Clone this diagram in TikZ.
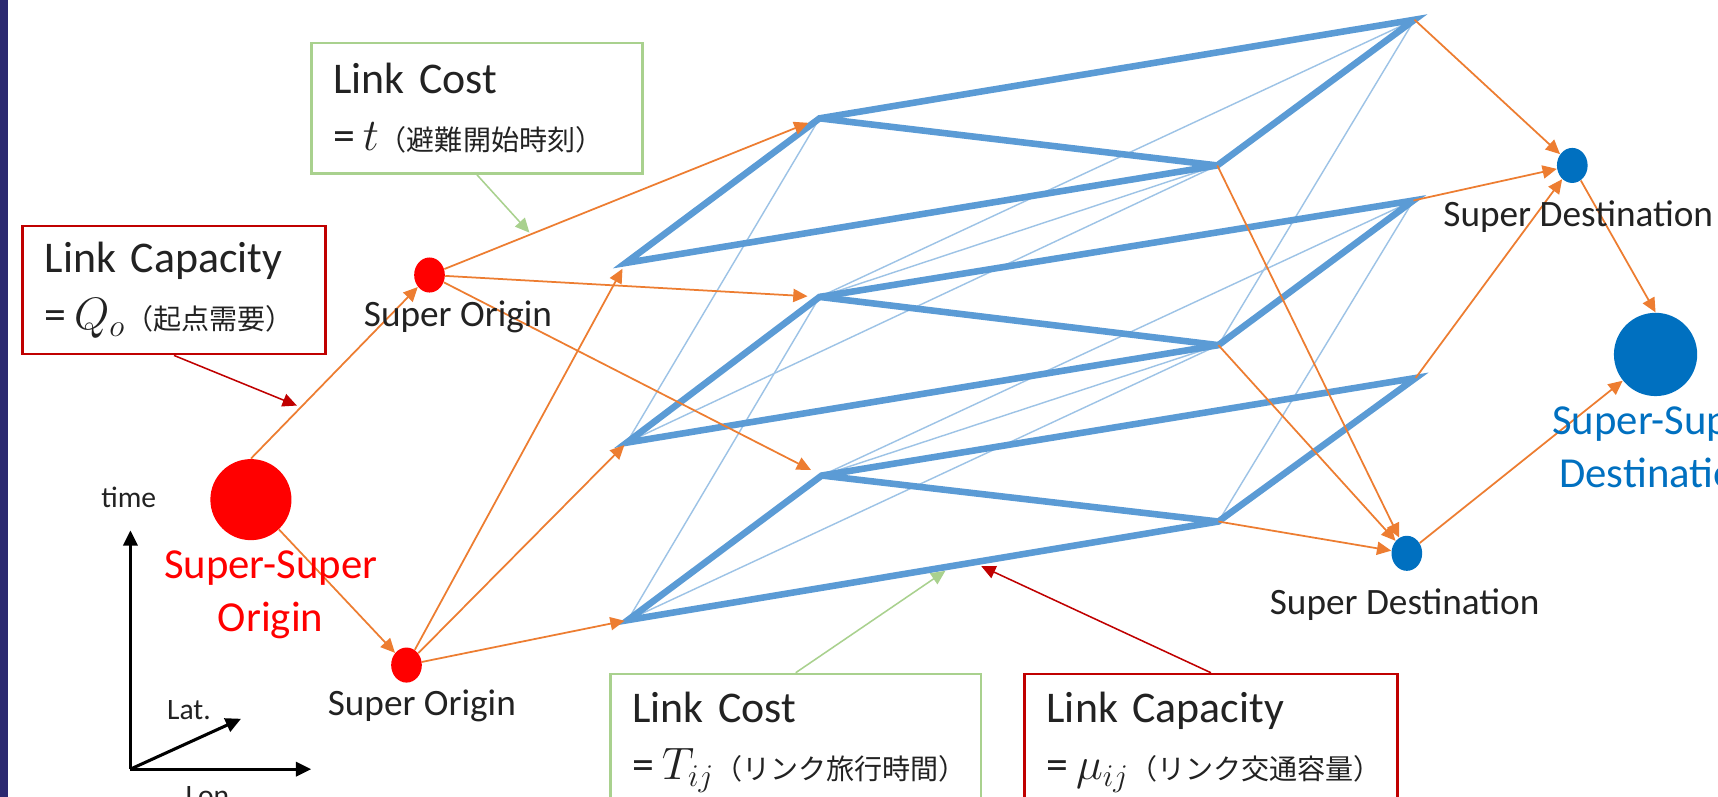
\documentclass[tikz,border=0pt]{standalone}
\usepackage{fontspec}
\setmainfont{Carlito}
\newfontfamily\jp{Noto Sans CJK JP}
\usetikzlibrary{arrows.meta,calc,shapes.geometric}
\definecolor{navy}{HTML}{2B2970}
\definecolor{orng}{HTML}{ED7D31}
\definecolor{netblue}{HTML}{5B9BD5}
\definecolor{thinblue}{HTML}{9DC3E6}
\definecolor{dblue}{HTML}{0070C0}
\definecolor{boxred}{HTML}{C00000}
\definecolor{boxgreen}{HTML}{A9D18E}
\definecolor{txt}{HTML}{222222}
\definecolor{ored}{HTML}{FF0000}
\begin{document}
\begin{tikzpicture}[x=0.5pt,y=-0.5pt,
  netthick/.style={netblue,line width=3pt,line join=miter},
  netthin/.style={thinblue,line width=0.65pt},
  flow/.style={orng,line width=0.8pt,-{Triangle[length=6.5pt,width=6pt]}},
  callg/.style={boxgreen,line width=0.7pt,-{Triangle[length=6.5pt,width=6pt]}},
  callr/.style={boxred,line width=0.7pt,-{Triangle[length=6.5pt,width=6pt]}},
  axisarrow/.style={black,line width=1.4pt,-{Triangle[length=7pt,width=6.5pt]}},
  dot/.style={ellipse,minimum width=14pt,minimum height=16pt,inner sep=0pt,draw=none},
  bigdot/.style={circle,minimum size=37pt,inner sep=0pt,draw=none},
  lbl/.style={text=txt,font=\fontsize{17}{20}\selectfont,inner sep=0pt},
  biglbl/.style={font=\fontsize{19.5}{24}\selectfont,inner sep=0pt,align=center},
  axlbl/.style={text=txt,font=\fontsize{13.5}{16}\selectfont,inner sep=0pt},
  boxnode/.style={anchor=north west,inner xsep=10pt,inner ysep=0pt,align=left,
    text=txt,font=\fontsize{20}{26}\selectfont,line width=1.2pt,fill=white}]
\useasboundingbox (0,0) rectangle (1568,727);
\clip (0,0) rectangle (1568,727);
\fill[white] (0,0) rectangle (1568,727);
\fill[navy] (0,0) rectangle (7,727);

% network vertices (three time layers)
\coordinate (P1) at (571,240);  \coordinate (P2) at (748,108);
\coordinate (P3) at (1111,151); \coordinate (P4) at (1291,18);
\coordinate (Q1) at (572,404);  \coordinate (Q2) at (748,271);
\coordinate (Q3) at (1112,315); \coordinate (Q4) at (1290,183);
\coordinate (R1) at (573,566);  \coordinate (R2) at (750,434);
\coordinate (R3) at (1112,476); \coordinate (R4) at (1292,345);

% thin time-expanded links
\foreach \a/\b in {Q1/P2,Q1/P3,Q2/P3,Q2/P4,Q3/P4,R1/Q2,R1/Q3,R2/Q3,R2/Q4,R3/Q4}
  \draw[netthin] (\a) -- (\b);
% thick layer links
\foreach \L in {P,Q,R}{
  \draw[netthick] (\L1) -- (\L2) -- (\L4) -- (\L3) -- cycle;
  \draw[netthick] (\L2) -- (\L3);
}

% origins and destinations
\node[bigdot,fill=ored] (SSO) at (229,456) {};
\node[dot,fill=ored] (S1) at (392,251) {};
\node[dot,fill=ored] (S2) at (371,607) {};
\node[dot,fill=dblue] (D1) at (1435,151) {};
\node[dot,fill=dblue] (D2) at (1284,505) {};
\node[bigdot,minimum size=38pt,fill=dblue] (SSD) at (1511,323.5) {};

% orange flow arrows
\draw[flow] (SSO.north) -- (S1);
\draw[flow] (SSO) -- (S2);
\draw[flow,shorten >=5.5pt] (S1) -- (P2);
\draw[flow,shorten >=5.5pt] (S1) -- (Q2);
\draw[flow,shorten >=5.5pt] (S1) -- (R2);
\draw[flow,shorten >=3pt] (S2) -- (P1);
\draw[flow,shorten >=1.5pt] (S2) -- (Q1);
\draw[flow,shorten >=1.5pt] (S2) -- (R1);
\draw[flow] (P4) -- (D1);
\draw[flow] (Q4) -- (D1);
\draw[flow] (R4) -- (D1);
\draw[flow] (P3) -- (D2);
\draw[flow] (Q3) -- (D2);
\draw[flow] (R3) -- (D2);
\draw[flow] (D1) -- (SSD.north);
\draw[flow] (D2) -- (SSD);

% labels
\node[lbl,anchor=base] (S1lab) at (418,298) {Super Origin};
\node[lbl,anchor=base] (S2lab) at (385,653) {Super Origin};
\node[lbl,anchor=base west] (D1lab) at (1317,207) {Super Destination};
\node[lbl,anchor=base] (D2lab) at (1282,561) {Super Destination};
\node[biglbl,text=ored] (SSOlab) at (247,543) {Super-Super\\Origin};
\node[biglbl,text=dblue] (SSDlab) at (1514,408) {Super-Super\\Destination};

% boxes
\node[boxnode,draw=boxgreen,text width=131pt,minimum height=59.5pt] (lcTop) at (283,38)
  {Link Cost\\\mbox{=\hspace{3.5pt}$t$\jp\fontsize{12.8}{26}\selectfont （避難開始時刻）}};
\node[boxnode,draw=boxred,text width=118pt,minimum height=58.5pt] (capL) at (19.6,205)
  {Link Capacity\\\mbox{=\hspace{3.5pt}$Q_o$\jp\fontsize{12.8}{26}\selectfont （起点需要）}};
\node[boxnode,draw=boxgreen,text width=149pt,minimum height=62pt] (lcBot) at (556,614)
  {Link Cost\\\mbox{=\hspace{3.5pt}$T_{ij}$\jp\fontsize{12.8}{26}\selectfont （リンク旅行時間）}};
\node[boxnode,draw=boxred,text width=150pt,minimum height=62pt] (capBot) at (934,614)
  {Link Capacity\\\mbox{=\hspace{3.5pt}$\mu_{ij}$\jp\fontsize{12.8}{26}\selectfont （リンク交通容量）}};

% callout arrows
\coordinate (tipT) at ($(S1)!0.26!(P2)$);
\coordinate (tipL) at ($(SSO.north)!0.28!(S1)$);
\coordinate (tipB1) at ($(R1)!0.55!(R3)$);
\coordinate (tipB2) at ($(R1)!0.585!(R3)$);
\draw[callg,shorten >=1pt] (lcTop.south) -- (tipT);
\draw[callr,shorten >=2pt] (capL.south) -- (tipL);
\draw[callg,shorten >=4pt] (lcBot.north) -- (tipB1);
\draw[callr,shorten >=4pt] (capBot.north) -- (tipB2);

% axes
\coordinate (O) at (119,702);
\coordinate (Tt) at (119,484);
\coordinate (Lo) at (284,702);
\coordinate (La) at (220,656);
\draw[axisarrow] (O) -- (Tt);
\draw[axisarrow] (O) -- (Lo);
\draw[axisarrow] (O) -- (La);
\node[axlbl,anchor=base] (tlab) at (117.5,463) {time};
\node[axlbl,anchor=base] (latlab) at (172.5,657) {Lat.};
\node[axlbl,anchor=north west] (lonlab) at (169,717) {Lon.};
\end{tikzpicture}
\end{document}
